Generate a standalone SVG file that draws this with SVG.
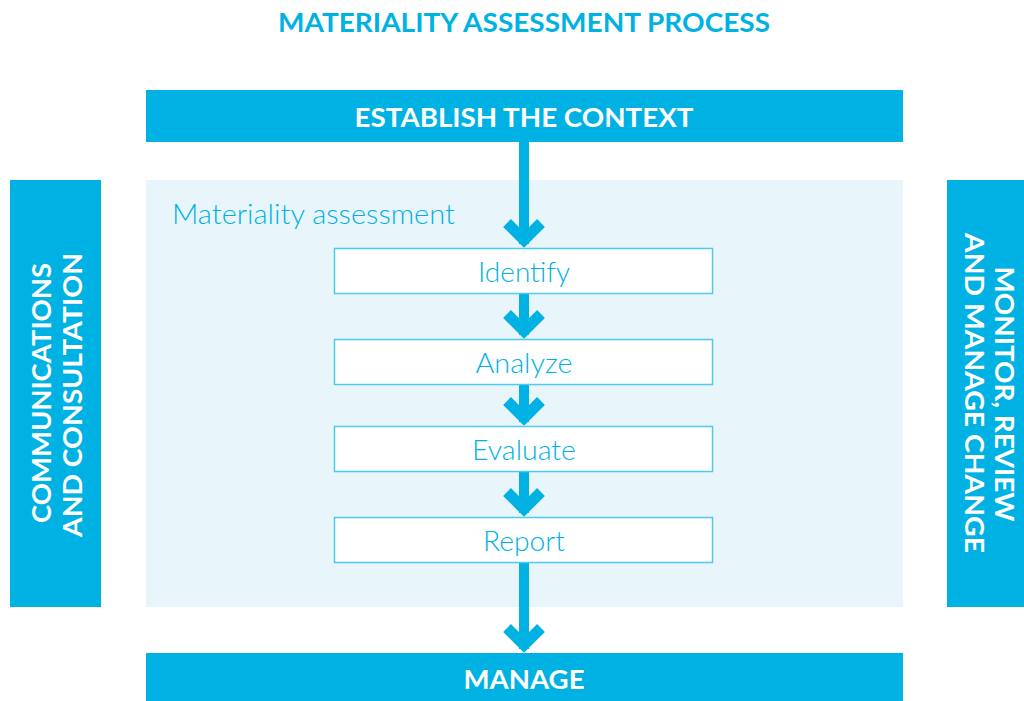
<svg xmlns="http://www.w3.org/2000/svg" width="1024" height="701" viewBox="0 0 1024 701">
<defs>
<style>
.bar{fill:#00b2e3}
.panel{fill:#e8f5fb}
.box{fill:#ffffff;stroke:#4ccbef;stroke-width:1.5}
.bt{font-family:Lato,"Open Sans","Liberation Sans",sans-serif;font-weight:700;fill:#ffffff}
.lt{font-family:Lato,"Open Sans","Liberation Sans",sans-serif;font-weight:300;fill:#00b2e3}
.shaft{stroke:#00b2e3;stroke-width:10;fill:none}
.head{stroke:#00b2e3;stroke-width:11;fill:none;stroke-linejoin:miter;stroke-miterlimit:10}
</style>
</defs>
<rect width="1024" height="701" fill="#ffffff"/>
<text x="524" y="32" text-anchor="middle" font-family="Lato,'Open Sans','Liberation Sans',sans-serif" font-weight="700" font-size="26" fill="#00b2e3" textLength="492" lengthAdjust="spacingAndGlyphs">MATERIALITY ASSESSMENT PROCESS</text>

<g id="panel">
<rect class="panel" x="146" y="180" width="757" height="427"/>
<text class="lt" x="172" y="224" font-size="27" textLength="283" lengthAdjust="spacingAndGlyphs">Materiality assessment</text>
</g>

<g id="establish">
<rect class="bar" x="146" y="90" width="757" height="52"/>
<text class="bt" x="524" y="127" text-anchor="middle" font-size="26" textLength="339" lengthAdjust="spacingAndGlyphs">ESTABLISH THE CONTEXT</text>
</g>

<g id="communications">
<rect class="bar" x="10" y="180" width="91" height="427"/>
<text class="bt" font-size="27" text-anchor="middle" transform="translate(51,393) rotate(-90)" textLength="260" lengthAdjust="spacingAndGlyphs">COMMUNICATIONS</text>
<text class="bt" font-size="27" text-anchor="middle" transform="translate(82,395) rotate(-90)" textLength="284" lengthAdjust="spacingAndGlyphs">AND CONSULTATION</text>
</g>

<g id="monitor">
<rect class="bar" x="947" y="180" width="77" height="427"/>
<text class="bt" font-size="27" text-anchor="middle" transform="translate(995,394) rotate(90)" textLength="255" lengthAdjust="spacingAndGlyphs">MONITOR, REVIEW</text>
<text class="bt" font-size="27" text-anchor="middle" transform="translate(965,393) rotate(90)" textLength="320" lengthAdjust="spacingAndGlyphs">AND MANAGE CHANGE</text>
</g>

<g id="manage">
<rect class="bar" x="146" y="653" width="757" height="48"/>
<text class="bt" x="524" y="689" text-anchor="middle" font-size="26" textLength="121" lengthAdjust="spacingAndGlyphs">MANAGE</text>
</g>

<g id="connectors">
<line class="shaft" x1="524" y1="142" x2="524" y2="244"/>
<polyline class="head" points="507,223 524,240 541,223"/>
<line class="shaft" x1="524" y1="293" x2="524" y2="335"/>
<polyline class="head" points="507,314 524,331 541,314"/>
<line class="shaft" x1="524" y1="384" x2="524" y2="422"/>
<polyline class="head" points="507,401 524,418 541,401"/>
<line class="shaft" x1="524" y1="471" x2="524" y2="513"/>
<polyline class="head" points="507,492 524,509 541,492"/>
<line class="shaft" x1="524" y1="562" x2="524" y2="649"/>
<polyline class="head" points="507,628 524,645 541,628"/>
</g>

<g id="identify">
<rect class="box" x="334.5" y="248.5" width="378" height="45"/>
<text class="lt" x="524" y="282" text-anchor="middle" font-size="27" textLength="92" lengthAdjust="spacingAndGlyphs">Identify</text>
</g>
<g id="analyze">
<rect class="box" x="334.5" y="339.5" width="378" height="45"/>
<text class="lt" x="524" y="373" text-anchor="middle" font-size="27" textLength="97" lengthAdjust="spacingAndGlyphs">Analyze</text>
</g>
<g id="evaluate">
<rect class="box" x="334.5" y="426.5" width="378" height="45"/>
<text class="lt" x="524" y="460" text-anchor="middle" font-size="27" textLength="104" lengthAdjust="spacingAndGlyphs">Evaluate</text>
</g>
<g id="report">
<rect class="box" x="334.5" y="517.5" width="378" height="45"/>
<text class="lt" x="524" y="551" text-anchor="middle" font-size="27" textLength="82" lengthAdjust="spacingAndGlyphs">Report</text>
</g>
</svg>
